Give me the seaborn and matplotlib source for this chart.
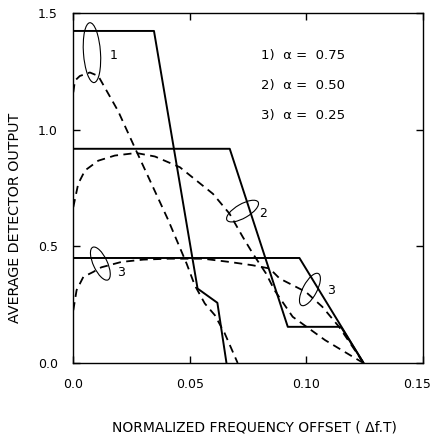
import numpy as np
import pandas as pd
import seaborn as sns
import matplotlib.pyplot as plt
import matplotlib.transforms as mtransforms
from matplotlib.patches import Ellipse


# solid lines: piecewise approximations
SOLID_1_X = [0.0, 0.0346, 0.0533, 0.0618, 0.0657]
SOLID_1_Y = [1.423, 1.423, 0.319, 0.258, 0.0]
SOLID_2_X = [0.0, 0.0671, 0.0920, 0.1148, 0.1245]
SOLID_2_Y = [0.918, 0.918, 0.155, 0.155, 0.0]
SOLID_3_X = [0.0, 0.0970, 0.1245]
SOLID_3_Y = [0.450, 0.450, 0.0]

# dashed lines: simulated curves
DASHED_1_X = [0.0, 0.0007, 0.0028, 0.0071, 0.0107, 0.0192, 0.0265, 0.0406,
              0.0486, 0.0521, 0.0564, 0.0607, 0.0649, 0.0705]
DASHED_1_Y = [1.16, 1.21, 1.23, 1.245, 1.23, 1.08, 0.92, 0.615,
              0.426, 0.333, 0.255, 0.205, 0.128, 0.0]
DASHED_2_X = [0.0, 0.0021, 0.0050, 0.0107, 0.0178, 0.0270, 0.0350, 0.0457,
              0.0599, 0.0670, 0.0727, 0.0770, 0.0827, 0.0863, 0.0941, 0.1080,
              0.1210, 0.1245]
DASHED_2_Y = [0.668, 0.768, 0.825, 0.867, 0.889, 0.900, 0.885, 0.839,
              0.725, 0.640, 0.540, 0.469, 0.383, 0.312, 0.198, 0.098,
              0.020, 0.0]
DASHED_3_X = [0.0, 0.0014, 0.0043, 0.0085, 0.0120, 0.0206, 0.0300, 0.0410,
              0.0556, 0.0670, 0.0768, 0.0842, 0.0885, 0.0997, 0.1068, 0.1140,
              0.1245]
DASHED_3_Y = [0.226, 0.312, 0.369, 0.390, 0.410, 0.433, 0.443, 0.447,
              0.447, 0.433, 0.419, 0.405, 0.362, 0.305, 0.241, 0.155,
              0.0]

ALPHA_LABELS = ["1)  \u03b1 =  0.75", "2)  \u03b1 =  0.50", "3)  \u03b1 =  0.25"]
X_TICKS = [0.0, 0.05, 0.10, 0.15]
X_TICK_LABELS = ["0.0", "0.05", "0.10", "0.15"]
Y_TICKS = [0.0, 0.5, 1.0, 1.5]
Y_TICK_LABELS = ["0.0", "0.5", "1.0", "1.5"]

# curve markers: (center x, center y, width px, height px, angle, label, label x, label y)
MARKERS = [
    (0.0080, 1.330, 17, 60, 4, "1", 0.0157, 1.316),
    (0.0726, 0.651, 36, 14, 30, "2", 0.0798, 0.642),
    (0.0116, 0.426, 36, 14, -65, "3", 0.0189, 0.389),
    (0.1015, 0.315, 36, 14, 62, "3", 0.1089, 0.312),
]


def main() -> None:
    sns.set_style("ticks")
    plt.rcParams["font.family"] = ["DejaVu Sans"]
    plt.rcParams["text.color"] = "black"
    plt.rcParams["axes.labelcolor"] = "black"
    plt.rcParams["xtick.color"] = "black"
    plt.rcParams["ytick.color"] = "black"

    fig = plt.figure(figsize=(4.30, 4.43), dpi=100)
    ax = fig.add_axes([0.1705, 0.1806, 0.8132, 0.7901])

    solids = [(SOLID_1_X, SOLID_1_Y), (SOLID_2_X, SOLID_2_Y), (SOLID_3_X, SOLID_3_Y)]
    dashed = [(DASHED_1_X, DASHED_1_Y), (DASHED_2_X, DASHED_2_Y), (DASHED_3_X, DASHED_3_Y)]

    for xs, ys in solids:
        df = pd.DataFrame({"x": xs, "y": ys})
        sns.lineplot(data=df, x="x", y="y", sort=False, estimator=None,
                     color="black", linewidth=1.4, ax=ax)
    for xs, ys in dashed:
        df = pd.DataFrame({"x": xs, "y": ys})
        sns.lineplot(data=df, x="x", y="y", sort=False, estimator=None,
                     color="black", linewidth=1.3, ax=ax, dashes=False,
                     linestyle=(0, (4.5, 3)))

    ax.set_xlim(0, 0.15)
    ax.set_ylim(0, 1.5)
    ax.set_xticks(X_TICKS)
    ax.set_xticklabels(X_TICK_LABELS)
    ax.set_yticks(Y_TICKS)
    ax.set_yticklabels(Y_TICK_LABELS)
    ax.tick_params(direction="in", length=5, width=1, top=True, right=True,
                   labelsize=9, pad=11, color="black", labelcolor="black")
    for spine in ax.spines.values():
        spine.set_visible(True)
        spine.set_linewidth(1.0)
        spine.set_color("black")

    # last x tick label sits against the figure edge, nudge it left
    last = ax.get_xticklabels()[-1]
    last.set_transform(last.get_transform()
                       + mtransforms.ScaledTranslation(-6 / 100, 0, fig.dpi_scale_trans))

    ax.set_xlabel("NORMALIZED FREQUENCY OFFSET ( \u0394f.T)", fontsize=10, color="black")
    ax.set_ylabel("AVERAGE DETECTOR OUTPUT", fontsize=10.3, color="black")
    ax.xaxis.set_label_coords(0.517, -0.163)
    ax.yaxis.set_label_coords(-0.148, 0.414)

    for i, text in enumerate(ALPHA_LABELS):
        ax.text(0.0805, 1.316 - i * 0.128, text, fontsize=9.5, ha="left", va="center",
                color="black")

    for cx, cy, w, h, ang, lab, lx, ly in MARKERS:
        trans = fig.dpi_scale_trans + mtransforms.ScaledTranslation(cx, cy, ax.transData)
        e = Ellipse((0, 0), w / 100, h / 100, angle=ang, fill=False,
                    edgecolor="black", linewidth=0.8, transform=trans)
        ax.add_patch(e)
        ax.text(lx, ly, lab, fontsize=9, ha="left", va="center", color="black")

    fig.savefig("out.png", dpi=100)
    plt.close(fig)


if __name__ == "__main__":
    main()
